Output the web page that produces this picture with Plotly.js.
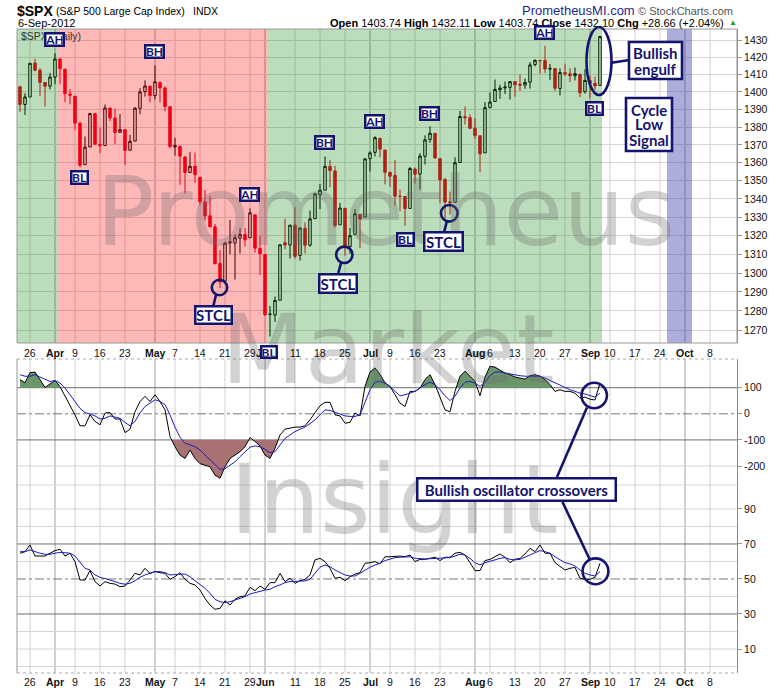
<!DOCTYPE html>
<html><head><meta charset="utf-8">
<script src="https://cdn.plot.ly/plotly-3.0.1.min.js"></script>
<style>html,body{margin:0;padding:0;background:#fff}#chart{width:780px;height:690px}</style>
</head><body><div id="chart"></div>
<script>
// ---------------- DATA ----------------
const dates = [
"2012-03-22","2012-03-23","2012-03-26","2012-03-27","2012-03-28","2012-03-29","2012-03-30",
"2012-04-02","2012-04-03","2012-04-04","2012-04-05","2012-04-09","2012-04-10","2012-04-11","2012-04-12","2012-04-13","2012-04-16","2012-04-17","2012-04-18","2012-04-19","2012-04-20","2012-04-23","2012-04-24","2012-04-25","2012-04-26","2012-04-27","2012-04-30",
"2012-05-01","2012-05-02","2012-05-03","2012-05-04","2012-05-07","2012-05-08","2012-05-09","2012-05-10","2012-05-11","2012-05-14","2012-05-15","2012-05-16","2012-05-17","2012-05-18","2012-05-21","2012-05-22","2012-05-23","2012-05-24","2012-05-25","2012-05-29","2012-05-30","2012-05-31",
"2012-06-01","2012-06-04","2012-06-05","2012-06-06","2012-06-07","2012-06-08","2012-06-11","2012-06-12","2012-06-13","2012-06-14","2012-06-15","2012-06-18","2012-06-19","2012-06-20","2012-06-21","2012-06-22","2012-06-25","2012-06-26","2012-06-27","2012-06-28","2012-06-29",
"2012-07-02","2012-07-03","2012-07-05","2012-07-06","2012-07-09","2012-07-10","2012-07-11","2012-07-12","2012-07-13","2012-07-16","2012-07-17","2012-07-18","2012-07-19","2012-07-20","2012-07-23","2012-07-24","2012-07-25","2012-07-26","2012-07-27","2012-07-30","2012-07-31",
"2012-08-01","2012-08-02","2012-08-03","2012-08-06","2012-08-07","2012-08-08","2012-08-09","2012-08-10","2012-08-13","2012-08-14","2012-08-15","2012-08-16","2012-08-17","2012-08-20","2012-08-21","2012-08-22","2012-08-23","2012-08-24","2012-08-27","2012-08-28","2012-08-29","2012-08-30","2012-08-31",
"2012-09-04","2012-09-05","2012-09-06"];

const open = [
1402.9,1392.8,1397.1,1416.6,1412.5,1405.4,1403.3,
1408.5,1419.0,1413.1,1398.8,1397.5,1382.2,1359.0,1368.8,1387.6,1370.3,1369.6,1390.8,1385.1,1377.0,1378.5,1367.0,1372.1,1390.6,1400.2,1403.3,
1397.9,1405.5,1402.3,1391.5,1368.8,1369.2,1363.2,1354.6,1358.1,1351.9,1338.4,1330.8,1324.8,1305.1,1295.7,1316.1,1316.0,1318.7,1320.6,1318.9,1331.3,1313.1,
1309.9,1278.3,1277.8,1285.6,1316.2,1315.0,1325.7,1309.4,1324.0,1314.9,1329.2,1342.4,1344.8,1358.0,1355.4,1325.9,1334.9,1314.1,1320.7,1331.5,1330.1,
1362.3,1365.8,1373.7,1367.1,1354.7,1353.0,1341.4,1341.3,1334.8,1356.5,1353.7,1363.6,1373.0,1376.5,1362.3,1350.7,1338.4,1338.2,1360.1,1385.9,1385.3,
1379.3,1375.1,1365.5,1391.0,1394.5,1401.2,1402.3,1402.6,1405.9,1404.4,1403.9,1405.6,1415.8,1417.9,1418.1,1413.1,1413.5,1402.0,1411.1,1410.4,1409.3,1410.1,1400.1,
1406.5,1404.9,1403.74];

const high = [
1403.5,1399.2,1416.6,1419.2,1413.6,1405.4,1410.9,
1422.4,1419.2,1413.1,1401.6,1397.5,1383.0,1374.7,1388.1,1387.6,1379.7,1392.8,1390.8,1390.5,1387.4,1378.5,1375.6,1391.4,1402.1,1406.6,1403.3,
1415.3,1405.5,1403.1,1391.5,1373.9,1369.2,1363.7,1365.9,1365.7,1351.9,1344.9,1341.8,1326.4,1312.2,1316.4,1328.5,1320.7,1324.1,1324.2,1334.9,1331.3,1319.7,
1309.9,1282.6,1287.6,1315.1,1329.1,1325.8,1335.5,1324.3,1327.3,1333.7,1343.3,1348.2,1363.5,1361.6,1358.3,1337.8,1334.9,1324.2,1334.4,1331.5,1362.2,
1366.4,1374.8,1373.9,1367.1,1354.9,1361.5,1345.0,1341.3,1357.7,1357.3,1365.4,1375.3,1380.4,1376.5,1362.3,1351.5,1344.0,1363.1,1389.2,1391.7,1387.2,
1385.0,1375.1,1394.2,1399.6,1407.1,1404.1,1406.0,1406.0,1405.9,1410.0,1407.7,1417.1,1418.7,1418.1,1426.7,1416.1,1413.5,1413.5,1416.2,1413.6,1414.0,1410.1,1413.1,
1409.3,1408.8,1432.11];

const low = [
1388.6,1386.9,1397.1,1411.9,1397.7,1391.6,1401.4,
1404.5,1404.6,1394.1,1392.9,1378.2,1357.4,1359.0,1368.8,1369.9,1365.4,1369.6,1383.3,1370.3,1377.0,1358.8,1366.8,1372.1,1387.3,1397.3,1394.0,
1395.7,1393.9,1388.9,1368.0,1363.9,1347.8,1343.1,1354.6,1348.9,1336.6,1328.4,1324.8,1304.9,1292.0,1295.7,1310.0,1296.5,1310.5,1314.2,1318.9,1310.8,1298.9,
1277.3,1266.7,1274.2,1285.6,1312.7,1307.8,1307.7,1306.6,1310.5,1314.1,1329.2,1334.5,1344.8,1346.5,1324.4,1325.9,1309.3,1310.3,1320.7,1313.3,1330.1,
1355.1,1363.5,1363.0,1348.0,1346.7,1336.3,1333.3,1325.4,1334.8,1348.5,1345.1,1359.0,1371.2,1362.2,1337.6,1329.2,1331.5,1338.2,1360.1,1381.4,1379.2,
1373.4,1354.7,1365.5,1391.0,1394.5,1396.1,1398.8,1395.6,1397.3,1400.6,1401.8,1401.9,1414.7,1410.6,1410.9,1406.8,1400.5,1398.0,1409.1,1405.6,1406.6,1397.0,1399.0,
1396.6,1401.3,1403.74];

const close = [
1392.8,1397.1,1416.5,1412.5,1405.5,1403.3,1408.5,
1419.0,1413.4,1399.0,1398.1,1382.2,1358.6,1368.7,1387.6,1370.3,1369.6,1390.8,1385.1,1376.9,1378.5,1366.9,1372.0,1390.7,1400.0,1403.4,1397.9,
1405.8,1402.3,1391.6,1369.1,1369.6,1363.7,1354.6,1358.0,1353.4,1338.4,1330.7,1324.8,1304.9,1295.2,1316.0,1316.6,1318.9,1320.7,1317.8,1332.4,1313.3,1310.3,
1278.0,1278.2,1285.5,1315.1,1315.0,1325.7,1308.9,1324.2,1314.9,1329.1,1342.8,1344.8,1358.0,1355.7,1325.5,1335.0,1313.7,1320.0,1331.9,1329.0,1362.2,
1365.5,1374.0,1367.6,1354.7,1352.5,1341.5,1341.45,1334.8,1356.8,1353.6,1363.7,1372.8,1376.5,1362.7,1350.5,1338.3,1337.9,1360.0,1386.0,1385.3,1379.3,
1375.3,1365.0,1391.0,1394.2,1401.4,1402.2,1402.8,1405.9,1404.1,1403.9,1405.5,1415.5,1418.2,1418.1,1413.2,1413.5,1402.1,1411.1,1410.4,1409.3,1410.5,1399.5,1406.6,
1404.9,1403.44,1432.10];

// CCI (black) and its moving average (blue)
const cci = [131,119,158,160,131,101,114,128,104,67,35,-4,-46,-46,-4,-29,-42,3,5,-20,-20,-72,-59,8,47,67,47,73,47,15,-87,-126,-158,-171,-139,-171,-191,-197,-203,-235,-247,-203,-171,-158,-145,-126,-91,-106,-123,-158,-171,-132,-81,-59,-55,-51,-51,-46,-23,5,31,44,44,-4,-8,-36,-33,3,-8,105,160,176,151,119,105,73,41,28,86,86,99,131,150,112,60,15,8,86,144,163,144,124,69,141,182,179,167,156,150,141,137,133,146,150,144,131,112,86,92,86,86,79,60,64,56,53,118];
const cciAvg = [150,144,144,150,141,131,124,127,118,99,73,47,21,5,-1,-8,-20,-17,-8,-13,-17,-33,-46,-29,3,28,41,54,47,35,-4,-51,-90,-113,-119,-126,-139,-158,-177,-197,-213,-210,-197,-184,-164,-145,-128,-123,-126,-136,-149,-145,-119,-94,-81,-68,-59,-51,-38,-23,-4,15,13,5,-1,-8,-10,-10,-4,47,92,121,124,118,105,86,69,73,79,86,99,112,121,112,92,69,51,67,99,121,124,118,105,121,146,160,160,156,154,150,146,144,144,146,144,137,128,118,108,99,92,86,79,76,69,64,79];

// RSI (black) and its moving average (blue)
const rsi = [64.7,65.6,69.4,63.1,63.1,63.1,64.7,66.2,67.0,63.1,64.7,59.9,49.4,49.4,54.8,48.5,46.0,48.5,47.5,47.1,45.6,46.0,49.4,53.2,52.3,56.1,53.2,54.2,53.6,53.2,49.8,51.3,53.6,49.8,47.5,46.6,43.7,38.9,35.1,32.7,33.2,37.6,35.1,38.4,39.9,40.3,45.2,43.3,46.0,44.1,47.9,47.9,53.2,48.5,50.4,47.5,49.0,49.8,52.3,60.9,61.8,59.9,56.1,50.4,51.0,49.0,51.3,52.8,53.6,59.0,59.3,59.9,58.6,62.7,62.7,63.1,63.1,62.7,63.7,59.9,61.2,61.2,61.8,62.4,60.5,62.4,62.4,64.7,65.2,63.7,59.3,54.8,54.8,60.5,61.2,62.7,64.3,62.4,59.3,61.2,61.8,64.3,67.5,65.6,69.4,64.7,64.7,59.3,57.0,55.1,56.1,56.6,50.4,49.8,49.8,51.0,59.0];
const rsiAvg = [65.6,65.6,66.6,65.6,64.7,64.1,64.1,64.7,65.2,65.0,64.7,63.1,59.3,56.1,55.1,52.3,51.0,50.4,49.4,48.5,47.5,47.0,47.5,49.0,51.0,52.3,53.2,54.2,54.2,53.6,52.3,52.3,52.7,52.8,51.3,49.0,47.1,44.7,41.8,38.4,37.0,36.5,37.0,38.0,38.9,39.9,41.4,42.2,43.1,43.7,44.1,45.6,46.6,47.9,48.5,48.5,48.9,48.9,49.8,53.2,56.7,58.0,57.0,55.1,53.6,52.3,51.7,51.7,53.2,55.1,56.7,58.0,59.0,60.5,61.2,62.2,62.4,62.4,62.7,61.8,61.4,61.4,61.6,61.8,61.6,61.8,62.2,63.1,64.1,63.7,61.8,59.3,58.0,59.3,59.9,60.9,61.8,62.2,61.2,60.9,61.2,62.4,63.7,64.7,66.2,65.6,64.7,62.7,60.9,59.3,58.6,57.4,55.1,53.2,52.3,51.7,54.2];

// Axis tick labels
const tickDates = ["2012-03-26","2012-04-02","2012-04-09","2012-04-16","2012-04-23","2012-05-01","2012-05-07","2012-05-14","2012-05-21","2012-05-29","2012-06-01","2012-06-11","2012-06-18","2012-06-25","2012-07-02","2012-07-09","2012-07-16","2012-07-23","2012-08-01","2012-08-06","2012-08-13","2012-08-20","2012-08-27","2012-09-04","2012-09-10","2012-09-17","2012-09-24","2012-10-01","2012-10-08"];
const tickLabels = ["26","Apr","9","16","23","May","7","14","21","29","Jun","11","18","25","Jul","9","16","23","Aug","6","13","20","27","Sep","10","17","24","Oct","8"];
const monthLabels = ["Apr","May","Jun","Jul","Aug","Sep","Oct"];
const priceTicks = [1270,1280,1290,1300,1310,1320,1330,1340,1350,1360,1370,1380,1390,1400,1410,1420,1430];
const cciTicks = [100,0,-100,-200];
const rsiTicks = [90,70,50,30,10];

// ---------------- HELPERS ----------------
const AX = '"Liberation Sans", Arial, sans-serif';
const LAB = 'Lato, "Open Sans", sans-serif';
const WM = '"DejaVu Sans", Verdana, sans-serif';
const NAVY = '#14146e';
const X = px => (px - 17) / 720;
const Y = py => (673 - py) / 644;

// trading calendar extended with future weekdays for the blank right side
const cal = dates.slice();
{
  let d = new Date(dates[dates.length-1] + "T00:00:00Z");
  while (cal.length < 150) {
    d = new Date(d.getTime() + 86400000);
    const w = d.getUTCDay();
    if (w !== 0 && w !== 6) cal.push(d.toISOString().slice(0,10));
  }
}
const tickPos = tickDates.map(t => cal.indexOf(t));
const isMonth = tickLabels.map(l => monthLabels.indexOf(l) >= 0);
const tickText = tickLabels.map((l,i) => isMonth[i] ? '<b>'+l+'</b>' : l);

const xs = dates.map((d,i) => i);

// split candles by colour (black: close >= previous close, red otherwise)
const blk = {x:[],o:[],h:[],l:[],c:[]}, red = {x:[],o:[],h:[],l:[],c:[]};
for (let i = 0; i < close.length; i++) {
  const prev = i > 0 ? close[i-1] : open[i];
  const t = close[i] >= prev ? blk : red;
  t.x.push(i); t.o.push(open[i]); t.h.push(high[i]); t.l.push(low[i]); t.c.push(close[i]);
}

function clip(xv, yv, level, dir) {
  const ox = [], oy = [];
  for (let i = 0; i < xv.length; i++) {
    if (i > 0) {
      const a = yv[i-1] - level, b = yv[i] - level;
      if ((a > 0 && b < 0) || (a < 0 && b > 0)) {
        const t = a / (a - b);
        ox.push(xv[i-1] + t * (xv[i] - xv[i-1])); oy.push(level);
      }
    }
    ox.push(xv[i]); oy.push(dir > 0 ? Math.max(yv[i], level) : Math.min(yv[i], level));
  }
  return {x: ox, y: oy};
}
const up = clip(xs, cci, 100, 1), dn = clip(xs, cci, -100, -1);
const xEnd = xs[xs.length-1];

const traces = [
  {type:'candlestick', x:blk.x, open:blk.o, high:blk.h, low:blk.l, close:blk.c, xaxis:'x', yaxis:'y',
   increasing:{line:{color:'#000', width:1}, fillcolor:'#ffffff'},
   decreasing:{line:{color:'#000', width:1}, fillcolor:'#000000'}, whiskerwidth:0, hoverinfo:'skip', showlegend:false},
  {type:'candlestick', x:red.x, open:red.o, high:red.h, low:red.l, close:red.c, xaxis:'x', yaxis:'y',
   increasing:{line:{color:'#e8001c', width:1}, fillcolor:'#ffffff'},
   decreasing:{line:{color:'#e8001c', width:1}, fillcolor:'#e8001c'}, whiskerwidth:0, hoverinfo:'skip', showlegend:false},
  // CCI fills
  {x:[0, xEnd], y:[100,100], yaxis:'y2', mode:'lines', line:{width:0}, hoverinfo:'skip', showlegend:false},
  {x:up.x, y:up.y, yaxis:'y2', mode:'lines', line:{width:0}, fill:'tonexty', fillcolor:'rgb(106,150,106)', hoverinfo:'skip', showlegend:false},
  {x:[0, xEnd], y:[-100,-100], yaxis:'y2', mode:'lines', line:{width:0}, hoverinfo:'skip', showlegend:false},
  {x:dn.x, y:dn.y, yaxis:'y2', mode:'lines', line:{width:0}, fill:'tonexty', fillcolor:'rgb(168,114,114)', hoverinfo:'skip', showlegend:false},
  {x:xs, y:cci, yaxis:'y2', mode:'lines', line:{color:'#000', width:1}, hoverinfo:'skip', showlegend:false},
  {x:xs, y:cciAvg, yaxis:'y2', mode:'lines', line:{color:'#1c1cc0', width:1}, hoverinfo:'skip', showlegend:false},
  {x:xs, y:rsi, yaxis:'y3', mode:'lines', line:{color:'#000', width:1}, hoverinfo:'skip', showlegend:false},
  {x:xs, y:rsiAvg, yaxis:'y3', mode:'lines', line:{color:'#1c1cc0', width:1}, hoverinfo:'skip', showlegend:false}
];

// ---------------- SHAPES ----------------
const shapes = [];
// vertical grid lines
tickPos.forEach((p,i) => {
  const c1 = isMonth[i] ? '#a0a0a0' : '#d2d2d2';
  shapes.push({type:'line', layer:'below', xref:'x', yref:'paper', x0:p, x1:p, y0:Y(343), y1:1, line:{color:c1, width:1}});
  shapes.push({type:'line', layer:'below', xref:'x', yref:'paper', x0:p, x1:p, y0:0, y1:Y(359), line:{color:c1, width:1}});
});
// indicator horizontal lines
const hl = (yref, v, color, dash) => shapes.push({type:'line', layer:'below', xref:'paper', yref:yref, x0:0, x1:1, y0:v, y1:v, line:{color:color, width:1, dash:dash||'solid'}});
hl('y2', -200, '#d4d4d4'); hl('y2', 100, '#6e6e6e'); hl('y2', -100, '#6e6e6e'); hl('y2', 0, '#777', 'dashdot');
shapes.push({type:'line', layer:'below', xref:'paper', yref:'paper', x0:0, x1:1, y0:Y(485), y1:Y(485), line:{color:'#d4d4d4', width:1}});
[0,10,20,40,60,80,90].forEach(v => hl('y3', v, '#d4d4d4'));
hl('y3', 70, '#6e6e6e'); hl('y3', 30, '#6e6e6e'); hl('y3', 50, '#777', 'dashdot');

// background zones drawn as translucent overlays
const zone = (x0, x1, col) => shapes.push({type:'rect', layer:'above', xref:'paper', yref:'paper', x0:X(x0), x1:X(x1), y0:Y(343), y1:1, fillcolor:col, line:{width:0}});
zone(17, 57, 'rgba(0,128,0,0.265)');
zone(57, 267, 'rgba(255,0,0,0.28)');
zone(267, 602, 'rgba(0,128,0,0.265)');
zone(667, 692, 'rgba(60,60,170,0.42)');
// panel borders
shapes.push({type:'rect', layer:'above', xref:'paper', yref:'paper', x0:0, x1:1, y0:Y(343), y1:1, line:{color:'#999', width:1}, fillcolor:'rgba(0,0,0,0)'});
shapes.push({type:'line', layer:'above', xref:'paper', yref:'paper', x0:0, x1:0, y0:0, y1:Y(359), line:{color:'#999', width:1}});
shapes.push({type:'line', layer:'above', xref:'paper', yref:'paper', x0:0, x1:1, y0:Y(359), y1:Y(359), line:{color:'#aaa', width:1, dash:'dot'}});
shapes.push({type:'line', layer:'above', xref:'paper', yref:'paper', x0:0, x1:1, y0:0, y1:0, line:{color:'#aaa', width:1, dash:'dot'}});

// annotation drawings
const circ = (cx, cy, rx, ry) => shapes.push({type:'circle', layer:'above', xref:'paper', yref:'paper', x0:X(cx-rx), x1:X(cx+rx), y0:Y(cy+ry), y1:Y(cy-ry), line:{color:NAVY, width:2.6}, fillcolor:'rgba(0,0,0,0)'});
const seg = (x0, y0, x1, y1) => shapes.push({type:'line', layer:'above', xref:'paper', yref:'paper', x0:X(x0), y0:Y(y0), x1:X(x1), y1:Y(y1), line:{color:NAVY, width:2.6}});
const rectBox = (x0, y0, x1, y1) => shapes.push({type:'rect', layer:'above', xref:'paper', yref:'paper', x0:X(x0), x1:X(x1), y0:Y(y1), y1:Y(y0), fillcolor:'#fff', line:{color:NAVY, width:2.6}});
circ(219.5, 287.5, 7.7, 7.7); seg(216, 295, 213.3, 306);
circ(344.3, 254.8, 8.2, 8.2); seg(341, 263, 338.3, 273);
circ(449.3, 213.3, 8.3, 8.3); seg(446.7, 221.7, 444.3, 231.5);
circ(599, 61, 12.5, 34); seg(611.5, 62.7, 629.5, 60);
rectBox(629, 42, 682, 79);
rectBox(626, 98, 672, 151);
circ(594.2, 395.5, 12.7, 12.7); seg(587, 407.5, 557, 477);
circ(595.5, 571.3, 12.9, 12.9); seg(562.5, 502, 589.5, 559);

// ---------------- ANNOTATIONS ----------------
const ann = [];
const txt = (x, y, text, size, color, family, xanchor) => ann.push({xref:'paper', yref:'paper', x:X(x), y:Y(y), xanchor:xanchor||'left', yanchor:'middle', showarrow:false, text:text, font:{family:family||AX, size:size, color:color||'#000'}});

// watermark
txt(386, 211, 'Prometheus', 97, 'rgba(105,105,105,0.30)', WM, 'center');
txt(388, 349, 'Market', 97, 'rgba(105,105,105,0.30)', WM, 'center');
txt(394, 499, 'Insight', 97, 'rgba(105,105,105,0.30)', WM, 'center');

// header
const n = close.length;
const chg = close[n-1] - close[n-2];
const pct = chg / close[n-2] * 100;
const mon = ["Jan","Feb","Mar","Apr","May","Jun","Jul","Aug","Sep","Oct","Nov","Dec"];
const ld = dates[n-1].split('-');
const dateLabel = parseInt(ld[2],10) + '-' + mon[parseInt(ld[1],10)-1] + '-' + ld[0];
txt(15, 11, '<b>$SPX</b>', 14, '#000');
txt(54, 11.5, '(S&amp;P 500 Large Cap Index)', 10.5, '#000');
txt(191, 11.5, 'INDX', 10.5, '#000');
txt(16, 23.5, dateLabel, 11, '#000');
txt(726, 23.5, '<b>Open</b> ' + open[n-1].toFixed(2) + ' <b>High</b> ' + high[n-1].toFixed(2) + ' <b>Low</b> ' + low[n-1].toFixed(2) +
    ' <b>Close</b> ' + close[n-1].toFixed(2) + ' <b>Chg</b> ' + (chg>=0?'+':'') + chg.toFixed(2) + ' (' + (pct>=0?'+':'') + pct.toFixed(2) + '%)', 11, '#000', AX, 'right');
txt(733, 23, '▲', 8, '#22a022', AX, 'center');
txt(578, 10.5, 'PrometheusMI.com', 13, '#1c2a8a', AX, 'center');
txt(735, 10.5, '© StockCharts.com', 11, '#555', AX, 'right');
txt(19, 36, '$SPX (Daily)', 10.5, '#333');

// date labels: mid row (under price panel) and bottom row
tickPos.forEach((p,i) => {
  ann.push({xref:'x', yref:'paper', x:p, y:Y(352.5), xanchor:'center', yanchor:'middle', showarrow:false, text:tickText[i], font:{family:AX, size:10.5, color:'#111'}});
  ann.push({xref:'x', yref:'paper', x:p, y:Y(681.5), xanchor:'center', yanchor:'middle', showarrow:false, text:tickText[i], font:{family:AX, size:10.5, color:'#111'}});
});

// label boxes
const box = (text, cx, cy, w, h, size) => ann.push({xref:'paper', yref:'paper', x:X(cx), y:Y(cy), xanchor:'center', yanchor:'middle', showarrow:false,
  text:'<b>'+text+'</b>', font:{family:LAB, size:size, color:NAVY}, bgcolor:'#fff', bordercolor:NAVY, borderwidth:2.5, borderpad:0, width:w-5, height:h-5});
box('AH', 54.5, 40, 21, 15, 12);
box('BH', 154.3, 51.2, 21, 15, 12);
box('BL', 79, 178, 19, 15, 12);
box('AH', 249.3, 194.8, 21, 15, 12);
box('BL', 269.3, 351.7, 18, 14, 12);
box('BH', 324, 142.3, 21, 15, 12);
box('AH', 374.3, 121.5, 21, 15, 12);
box('BL', 405, 239, 19, 15, 12);
box('BH', 429.3, 113.3, 21, 15, 12);
box('AH', 544.3, 32.8, 21, 15, 12);
box('BL', 594.8, 108.3, 19, 15, 12);
box('STCL', 213.2, 315.3, 39, 20, 15);
box('STCL', 338.3, 283.2, 40, 21, 15);
box('STCL', 443.7, 241.8, 41, 21, 15);
box('Bullish oscillator crossovers', 516.5, 489.5, 201, 25, 15);
const ltxt = (x, y, t) => txt(x, y, '<b>'+t+'</b>', 15, NAVY, LAB, 'center');
ltxt(655.5, 53, 'Bullish'); ltxt(655.5, 68.5, 'engulf');
ltxt(649, 109.5, 'Cycle'); ltxt(649, 124.5, 'Low'); ltxt(649, 140, 'Signal');

// ---------------- LAYOUT ----------------
const tf = {family:AX, size:10.5, color:'#111'};
const layout = {
  width:780, height:690, margin:{l:17, r:43, t:29, b:17}, paper_bgcolor:'#fff', plot_bgcolor:'#fff', showlegend:false,
  xaxis:{range:[-0.6, 143.4], domain:[0,1], anchor:'y3', showticklabels:false, ticks:'', showgrid:false, zeroline:false, showline:false, rangeslider:{visible:false}, fixedrange:true},
  yaxis:{type:'log', domain:[Y(343), 1], range:[Math.log10(1263.3), Math.log10(1436.5)], side:'right', anchor:'x', tickmode:'array', tickvals:priceTicks, ticktext:priceTicks.map(String),
         showgrid:true, gridcolor:'#d6d6d6', gridwidth:1, ticks:'outside', ticklen:4, tickcolor:'#999', showline:true, linecolor:'#888', zeroline:false, tickfont:tf, fixedrange:true},
  yaxis2:{domain:[Y(486), Y(359)], range:[-276.6, 210], side:'right', anchor:'x', tickmode:'array', tickvals:cciTicks, ticktext:cciTicks.map(String),
          showgrid:false, zeroline:false, ticks:'outside', ticklen:4, tickcolor:'#999', showline:true, linecolor:'#888', tickfont:tf, fixedrange:true},
  yaxis3:{domain:[0, Y(486)], range:[-3.7, 103.1], side:'right', anchor:'x', tickmode:'array', tickvals:rsiTicks, ticktext:rsiTicks.map(String),
          showgrid:false, zeroline:false, ticks:'outside', ticklen:4, tickcolor:'#999', showline:true, linecolor:'#888', tickfont:tf, fixedrange:true},
  shapes:shapes, annotations:ann
};
Plotly.newPlot('chart', traces, layout, {displayModeBar:false, staticPlot:true});
</script></body></html>
